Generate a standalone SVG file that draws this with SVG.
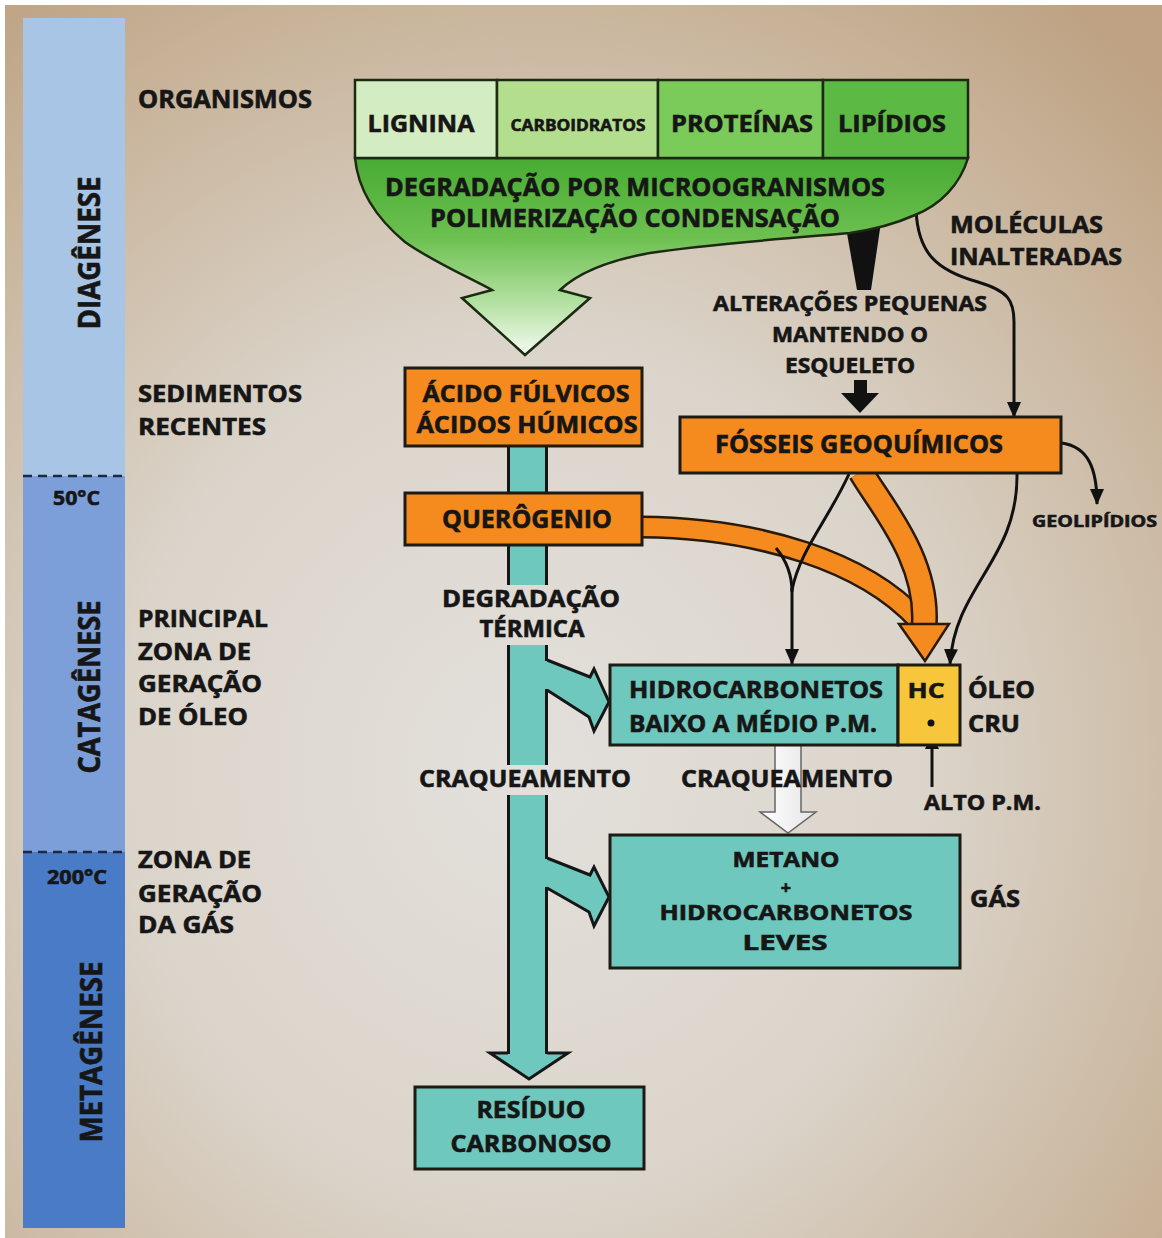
<svg xmlns="http://www.w3.org/2000/svg" width="1162" height="1238" viewBox="0 0 1162 1238">
<defs>
  <radialGradient id="bgGrad" cx="0.45" cy="0.62" r="0.78">
    <stop offset="0" stop-color="#e3e0dc"/>
    <stop offset="0.45" stop-color="#dbd4ca"/>
    <stop offset="0.8" stop-color="#c9b59c"/>
    <stop offset="1" stop-color="#bea283"/>
  </radialGradient>
  <linearGradient id="funnelGrad" x1="0" y1="158" x2="0" y2="355" gradientUnits="userSpaceOnUse">
    <stop offset="0" stop-color="#48ab33"/>
    <stop offset="0.4" stop-color="#6cc04f"/>
    <stop offset="0.75" stop-color="#b7e2a6"/>
    <stop offset="1" stop-color="#f4fbf1"/>
  </linearGradient>
  <linearGradient id="whiteArrow" x1="0" y1="0" x2="1" y2="0">
    <stop offset="0" stop-color="#ffffff"/>
    <stop offset="1" stop-color="#e4e4e4"/>
  </linearGradient>
  <marker id="ah" markerUnits="userSpaceOnUse" markerWidth="16" markerHeight="16" viewBox="0 0 16 14" refX="15" refY="7" orient="auto">
    <path d="M0,0 L16,7 L0,14 Z" fill="#111"/>
  </marker>
  <style>
    .t{font-family:"Open Sans","Liberation Sans",sans-serif;font-weight:700;fill:#161616;stroke:#161616;stroke-width:0.6}
    .c{text-anchor:middle}
    .box{stroke:#1e1a14;stroke-width:3}
    .org{fill:#f58a1e}
    .teal{fill:#6fc8bd}
    .edge{stroke:#161616;stroke-width:3;fill:none}
    .ln{stroke:#111;stroke-width:3;fill:none}
    .cell{stroke:#1c2a12;stroke-width:2.5}
  </style>
</defs>

<g id="background">
  <rect x="0" y="0" width="1162" height="1238" fill="#ffffff"/>
  <rect x="5" y="5" width="1157" height="1233" fill="url(#bgGrad)"/>
</g>

<g id="stage-bar">
  <rect x="23" y="18" width="102" height="458" fill="#a9c5e6"/>
  <rect x="23" y="476" width="102" height="376" fill="#7c9fda"/>
  <rect x="23" y="852" width="102" height="376" fill="#4a7bc6"/>
  <line x1="23" y1="476" x2="125" y2="476" stroke="#1d2a45" stroke-width="2.5" stroke-dasharray="9 6"/>
  <line x1="23" y1="852" x2="125" y2="852" stroke="#1d2a45" stroke-width="2.5" stroke-dasharray="9 6"/>
  <text class="t c" transform="translate(100,253) rotate(-90)" font-size="30" textLength="153" lengthAdjust="spacingAndGlyphs">DIAGÊNESE</text>
  <text class="t c" transform="translate(100,687) rotate(-90)" font-size="30" textLength="173" lengthAdjust="spacingAndGlyphs">CATAGÊNESE</text>
  <text class="t c" transform="translate(102,1052) rotate(-90)" font-size="30" textLength="181" lengthAdjust="spacingAndGlyphs">METAGÊNESE</text>
  <text class="t" x="53" y="505" font-size="19" textLength="47" lengthAdjust="spacingAndGlyphs">50°C</text>
  <text class="t" x="47" y="884" font-size="19" textLength="60" lengthAdjust="spacingAndGlyphs">200°C</text>
</g>

<g id="zone-labels">
  <text class="t" x="138" y="108" font-size="25" textLength="174" lengthAdjust="spacingAndGlyphs">ORGANISMOS</text>
  <text class="t" x="138" y="402" font-size="24" textLength="164" lengthAdjust="spacingAndGlyphs">SEDIMENTOS</text>
  <text class="t" x="138" y="435" font-size="24" textLength="128" lengthAdjust="spacingAndGlyphs">RECENTES</text>
  <text class="t" x="138" y="627" font-size="24" textLength="130" lengthAdjust="spacingAndGlyphs">PRINCIPAL</text>
  <text class="t" x="138" y="660" font-size="24" textLength="113" lengthAdjust="spacingAndGlyphs">ZONA DE</text>
  <text class="t" x="138" y="692" font-size="24" textLength="124" lengthAdjust="spacingAndGlyphs">GERAÇÃO</text>
  <text class="t" x="138" y="725" font-size="24" textLength="110" lengthAdjust="spacingAndGlyphs">DE ÓLEO</text>
  <text class="t" x="138" y="868" font-size="24" textLength="113" lengthAdjust="spacingAndGlyphs">ZONA DE</text>
  <text class="t" x="138" y="902" font-size="24" textLength="124" lengthAdjust="spacingAndGlyphs">GERAÇÃO</text>
  <text class="t" x="138" y="933" font-size="24" textLength="96" lengthAdjust="spacingAndGlyphs">DA GÁS</text>
</g>

<g id="connectors">
  <!-- black wedge under funnel -->
  <polygon points="845,222 881,222 871,290 857,290" fill="#111"/>
  <!-- teal branch arrows -->
  <path d="M547,660 L590,677 L594,669 L609,702 L594,731 L589,717 L547,690" class="teal" stroke="#161616" stroke-width="3" stroke-linejoin="miter"/>
  <path d="M547,858 L590,875 L594,867 L609,897 L594,926 L589,912 L547,888" class="teal" stroke="#161616" stroke-width="3" stroke-linejoin="miter"/>
  <!-- teal stem segments -->
  <rect x="508" y="444" width="39" height="51" class="teal"/>
  <rect x="508" y="543" width="39" height="42" class="teal"/>
  <rect x="508" y="645" width="39" height="120" class="teal"/>
  <rect x="508" y="795" width="39" height="259" class="teal"/>
  <path d="M508,1053 L490,1053 L529,1079 L568,1053 L547,1053" class="teal" stroke="#161616" stroke-width="3"/>
  <path class="edge" d="M508.5,444 V495 M546.5,444 V495 M508.5,543 V585 M546.5,543 V585 M508.5,645 V765 M546.5,645 V661 M546.5,689 V765 M508.5,795 V1054 M546.5,795 V859 M546.5,887 V1054"/>
  <!-- orange bands -->
  <path d="M641,527 C760,528 865,562 918,620" fill="none" stroke="#2a1a0a" stroke-width="23"/>
  <path d="M641,527 C760,528 865,562 918,620" fill="none" stroke="#f58a1e" stroke-width="18"/>
  <path d="M861,472 C880,505 930,560 924,628" fill="none" stroke="#2a1a0a" stroke-width="27"/>
  <path d="M861,472 C880,505 930,560 924,628" fill="none" stroke="#f58a1e" stroke-width="22"/>
  <polygon points="899,624 949,624 925,661" fill="#f58a1e" stroke="#2a1a0a" stroke-width="2.5"/>
  <!-- thin black arrows -->
  <path class="ln" d="M916,210 C918,252 935,270 978,282 C1008,291 1014,300 1014,322 L1014,417" marker-end="url(#ah)"/>
  <path class="ln" d="M1062,443 C1088,447 1097,468 1097,504" marker-end="url(#ah)"/>
  <path class="ln" d="M849,474 C828,520 800,550 792,590"/>
  <path class="ln" d="M776,548 C786,560 792,575 792,592"/>
  <path class="ln" d="M792,588 L792,664" marker-end="url(#ah)"/>
  <path class="ln" d="M1017,474 C1018,560 955,585 950,664" marker-end="url(#ah)"/>
  <path class="ln" d="M932,787 L932,734" marker-end="url(#ah)"/>
  <!-- block arrow under ESQUELETO -->
  <polygon points="854,380 867,380 867,393 879,393 860,413 841,393 854,393" fill="#111"/>
  <!-- white cracking arrow -->
  <path d="M775,746 L775,812 L760,812 L788,833 L816,812 L801,812 L801,746" fill="url(#whiteArrow)" stroke="#666" stroke-width="1.5"/>
</g>

<g id="n-funnel">
  <path d="M355,158 L968,158 C960,185 940,205 915,215 C895,224 878,229 850,233 C780,239 700,245 650,253 C605,261 578,273 560,290 L590,298 L525,355 L462,298 L492,290 C470,278 430,260 405,242 C375,217 358,190 355,158 Z" fill="url(#funnelGrad)" stroke="#1c2a12" stroke-width="2.5" stroke-linejoin="miter"/>
  <text class="t c" x="635" y="196" font-size="25" textLength="500" lengthAdjust="spacingAndGlyphs">DEGRADAÇÃO POR MICROOGRANISMOS</text>
  <text class="t c" x="635" y="227" font-size="25" textLength="410" lengthAdjust="spacingAndGlyphs">POLIMERIZAÇÃO CONDENSAÇÃO</text>
</g>

<g id="n-organisms">
  <rect x="355" y="80" width="142" height="78" fill="#d4ecc1" class="cell"/>
  <rect x="497" y="80" width="161" height="78" fill="#b2de8e" class="cell"/>
  <rect x="658" y="80" width="165" height="78" fill="#7bcb5a" class="cell"/>
  <rect x="823" y="80" width="145" height="78" fill="#5bb944" class="cell"/>
  <text class="t c" x="421" y="132" font-size="24" textLength="107" lengthAdjust="spacingAndGlyphs">LIGNINA</text>
  <text class="t c" x="578" y="131" font-size="16" textLength="135" lengthAdjust="spacingAndGlyphs">CARBOIDRATOS</text>
  <text class="t c" x="742" y="132" font-size="24" textLength="142" lengthAdjust="spacingAndGlyphs">PROTEÍNAS</text>
  <text class="t c" x="892" y="132" font-size="24" textLength="108" lengthAdjust="spacingAndGlyphs">LIPÍDIOS</text>
</g>

<g id="labels-right">
  <text class="t" x="950" y="233" font-size="23" textLength="153" lengthAdjust="spacingAndGlyphs">MOLÉCULAS</text>
  <text class="t" x="950" y="265" font-size="23" textLength="172" lengthAdjust="spacingAndGlyphs">INALTERADAS</text>
  <text class="t c" x="850" y="311" font-size="21" textLength="274" lengthAdjust="spacingAndGlyphs">ALTERAÇÕES PEQUENAS</text>
  <text class="t c" x="850" y="342" font-size="21" textLength="156" lengthAdjust="spacingAndGlyphs">MANTENDO O</text>
  <text class="t c" x="850" y="373" font-size="21" textLength="130" lengthAdjust="spacingAndGlyphs">ESQUELETO</text>
  <text class="t" x="1032" y="527" font-size="16" textLength="125" lengthAdjust="spacingAndGlyphs">GEOLIPÍDIOS</text>
  <text class="t c" x="531" y="607" font-size="23" textLength="178" lengthAdjust="spacingAndGlyphs">DEGRADAÇÃO</text>
  <text class="t c" x="532" y="637" font-size="23" textLength="105" lengthAdjust="spacingAndGlyphs">TÉRMICA</text>
  <text class="t" x="419" y="787" font-size="24" textLength="212" lengthAdjust="spacingAndGlyphs">CRAQUEAMENTO</text>
  <text class="t c" x="787" y="787" font-size="24" textLength="212" lengthAdjust="spacingAndGlyphs">CRAQUEAMENTO</text>
  <text class="t" x="924" y="810" font-size="22" textLength="117" lengthAdjust="spacingAndGlyphs">ALTO P.M.</text>
  <text class="t" x="968" y="698" font-size="23" textLength="67" lengthAdjust="spacingAndGlyphs">ÓLEO</text>
  <text class="t" x="968" y="732" font-size="23" textLength="52" lengthAdjust="spacingAndGlyphs">CRU</text>
  <text class="t" x="970" y="907" font-size="24" textLength="50" lengthAdjust="spacingAndGlyphs">GÁS</text>
</g>

<g id="n-acidos">
  <rect x="405" y="368" width="237" height="78" class="org box"/>
  <text class="t c" x="526" y="402" font-size="23" textLength="207" lengthAdjust="spacingAndGlyphs">ÁCIDO FÚLVICOS</text>
  <text class="t c" x="527" y="433" font-size="23" textLength="221" lengthAdjust="spacingAndGlyphs">ÁCIDOS HÚMICOS</text>
</g>

<g id="n-querogenio">
  <rect x="405" y="493" width="237" height="52" class="org box"/>
  <text class="t c" x="527" y="528" font-size="25" textLength="170" lengthAdjust="spacingAndGlyphs">QUERÔGENIO</text>
</g>

<g id="n-fosseis">
  <rect x="680" y="417" width="381" height="56" class="org box"/>
  <text class="t c" x="859" y="453" font-size="25" textLength="288" lengthAdjust="spacingAndGlyphs">FÓSSEIS GEOQUÍMICOS</text>
</g>

<g id="n-hidro">
  <rect x="610" y="665" width="288" height="80" class="teal box"/>
  <text class="t c" x="756" y="698" font-size="23" textLength="254" lengthAdjust="spacingAndGlyphs">HIDROCARBONETOS</text>
  <text class="t c" x="753" y="732" font-size="23" textLength="248" lengthAdjust="spacingAndGlyphs">BAIXO A MÉDIO P.M.</text>
</g>

<g id="n-hc">
  <rect x="898" y="665" width="62" height="80" fill="#f8c63a" class="box"/>
  <text class="t c" x="926" y="698" font-size="22" textLength="37" lengthAdjust="spacingAndGlyphs">HC</text>
  <circle cx="931" cy="723" r="3.5" fill="#111"/>
</g>

<g id="n-metano">
  <rect x="610" y="835" width="350" height="133" class="teal box"/>
  <text class="t c" x="786" y="867" font-size="21" textLength="107" lengthAdjust="spacingAndGlyphs">METANO</text>
  <text class="t c" x="786" y="894" font-size="18">+</text>
  <text class="t c" x="786" y="920" font-size="21" textLength="253" lengthAdjust="spacingAndGlyphs">HIDROCARBONETOS</text>
  <text class="t c" x="785" y="950" font-size="21" textLength="85" lengthAdjust="spacingAndGlyphs">LEVES</text>
</g>

<g id="n-residuo">
  <rect x="415" y="1087" width="229" height="82" class="teal box"/>
  <text class="t c" x="531" y="1118" font-size="24" textLength="109" lengthAdjust="spacingAndGlyphs">RESÍDUO</text>
  <text class="t c" x="531" y="1152" font-size="24" textLength="161" lengthAdjust="spacingAndGlyphs">CARBONOSO</text>
</g>
</svg>
